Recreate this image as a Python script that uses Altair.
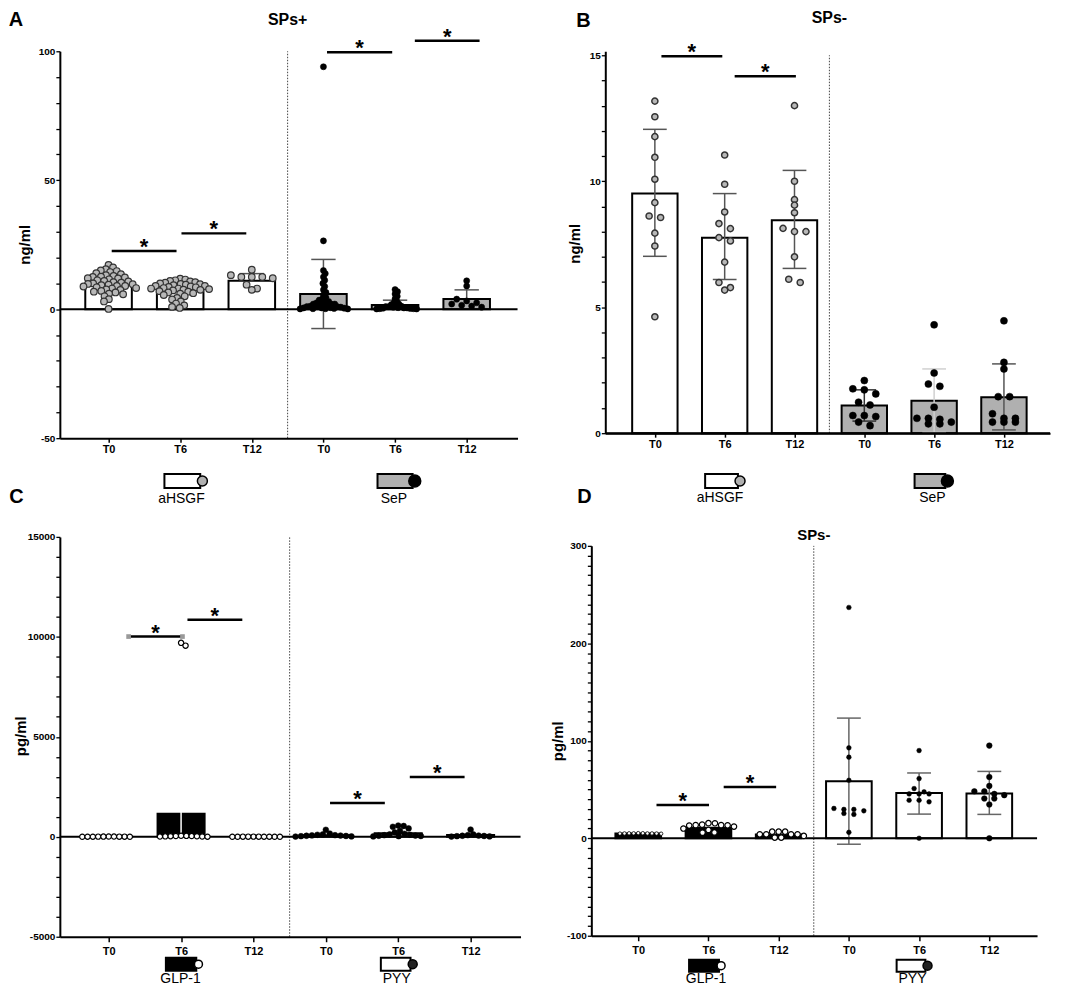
import math
import altair as alt
import pandas as pd

FONT = "Liberation Sans"

TICK_LABELS = ["T0", "T6", "T12", "T0", "T6", "T12"]
POSITIONS = [0, 1, 2, 3, 4, 5]

# ---------------- Panel A : SPs+ (ng/ml) ----------------
A_GROUPS = ["aHSGF", "SeP"]
A_aHSGF_T0 = [17.2, 16.2, 15.5, 15.0, 14.8, 14.4, 14.0, 13.6, 13.2, 12.9, 12.6, 12.5, 12.3, 12.0,
              11.9, 11.6, 11.2, 11.0, 10.8, 10.5, 10.3, 10.0, 9.8, 9.7, 9.5, 9.3, 9.0, 9.0, 8.8,
              8.5, 8.2, 8.0, 7.7, 7.5, 7.1, 6.8, 6.5, 6.0, 5.8, 5.0, 3.9, 3.0, 0.1]
A_aHSGF_T6 = [11.8, 11.5, 11.2, 11.0, 10.8, 10.5, 10.3, 10.0, 9.8, 9.7, 9.5, 9.3, 9.0, 9.0, 8.8,
              8.6, 8.5, 8.2, 8.0, 8.0, 7.8, 7.6, 7.5, 7.3, 7.0, 6.8, 6.5, 6.2, 6.0, 5.5, 5.0,
              4.4, 3.8, 3.0, 2.2, 1.5, 0.9, 0.5]
A_aHSGF_T12 = [15.3, 13.2, 12.5, 12.5, 12.5, 12.0, 9.5, 8.0, 7.5]
A_SeP_T0 = [94.0, 26.5, 15.0, 13.8, 12.5, 11.2, 10.0, 8.8, 7.5, 6.5, 5.5, 4.5, 4.0, 3.5, 3.0,
            3.0, 2.5, 2.5, 2.0, 2.0, 2.0, 1.5, 1.5, 1.5, 1.2, 1.0, 1.0, 1.0, 0.8, 0.6, 0.5,
            0.5, 0.4, 0.3, 0.2, 0.2, 0.1, 0.1]
A_SeP_T6 = [7.6, 6.8, 5.9, 5.0, 4.0, 3.0, 2.5, 2.0, 1.8, 1.5, 1.2, 1.0, 1.0,
            0.8, 0.6, 0.5, 0.5, 0.4, 0.3, 0.2, 0.2, 0.1, 0.1]
A_SeP_T12 = [11.0, 9.0, 3.9, 3.2, 2.5, 2.0, 1.5, 1.2, 0.8]
A_MEAN = [9.8, 8.0, 11.0, 5.9, 1.6, 4.0]
A_SD_LOW = [None, None, None, -7.5, None, None]
A_SD_HIGH = [None, None, 13.8, 19.3, 3.5, 7.5]
A_SIG_FROM = [0.044, 1.018, 3.05, 4.276]
A_SIG_TO = [0.949, 1.923, 3.96, 5.18]
A_SIG_AT = [22.6, 29.4, 99.6, 104.1]

# ---------------- Panel B : SPs- (ng/ml) ----------------
B_GROUPS = ["aHSGF", "SeP"]
B_aHSGF_T0 = [13.18, 12.56, 11.77, 10.95, 10.08, 9.15, 8.62, 8.56, 7.94, 7.43, 4.62]
B_aHSGF_T6 = [11.04, 9.88, 8.78, 8.32, 8.12, 7.76, 7.63, 6.79, 5.98, 5.78, 5.68]
B_aHSGF_T12 = [13.0, 10.0, 9.27, 9.05, 8.75, 8.13, 8.0, 8.0, 7.0, 6.11, 5.98]
B_SeP_T0 = [2.09, 1.76, 1.72, 1.56, 1.23, 1.12, 0.70, 0.70, 0.66, 0.44, 0.30]
B_SeP_T6 = [4.30, 2.39, 1.95, 1.86, 1.03, 0.59, 0.59, 0.55, 0.44, 0.37, 0.37]
B_SeP_T12 = [4.46, 2.81, 2.55, 1.45, 1.45, 0.77, 0.59, 0.59, 0.44, 0.44, 0.44]
B_MEAN = [9.51, 7.76, 8.45, 1.10, 1.29, 1.43]
B_SD_LOW = [7.02, 6.10, 6.54, 0.48, 0.03, 0.13]
B_SD_HIGH = [12.06, 9.51, 10.43, 1.72, 2.55, 2.75]
B_SIG_FROM = [0.094, 1.143]
B_SIG_TO = [0.966, 2.02]
B_SIG_AT = [14.96, 14.17]

# ---------------- Panel C : SPs+ (pg/ml) ----------------
C_GROUPS = ["GLP-1", "PYY"]
C_GLP_T0 = [5, 10, 3, 8, 6, 4, 12, 7, 5, 9]
C_GLP_T6 = [9700, 9560, 50, 45, 40, 35, 30, 25, 20, 15, 10, 5]
C_GLP_T12 = [3, 5, 8, 2, 6, 4, 7, 5, 3, 6]
C_PYY_T0 = [350, 160, 120, 100, 80, 70, 60, 50, 40, 30, 20, 10]
C_PYY_T6 = [560, 540, 500, 420, 300, 220, 150, 120, 100, 80, 60, 50, 40, 30, 20]
C_PYY_T12 = [360, 120, 80, 60, 50, 40, 30, 20, 10]
C_MEAN = [7, 1150, 5, 80, 180, 85]
C_SD_LOW = [None, 0, None, None, None, None]
C_SD_HIGH = [None, 4100, None, None, None, None]
C_SIG_FROM = [0.275, 1.088, 3.058, 4.16]
C_SIG_TO = [1.019, 1.846, 3.815, 4.917]
C_SIG_AT = [10015, 10860, 1694, 2990]

# ---------------- Panel D : SPs- (pg/ml) ----------------
D_GROUPS = ["GLP-1", "PYY"]
D_GLP_T0 = [5.2, 4.8, 5.0, 5.1, 4.9, 5.0, 5.3, 4.7, 5.0, 5.1]
D_GLP_T6 = [15.5, 15.4, 13.5, 13.3, 13.5, 14.0, 13.0, 12.0, 10.0, 8.5, 6.0, 5.8]
D_GLP_T12 = [6.8, 6.8, 6.8, 4.1, 4.1, 4.1, 4.1, 2.4, 0.7, 0.7]
D_PYY_T0 = [236.8, 92.8, 83.2, 59.5, 30.6, 29.6, 29.6, 28.2, 25.5, 24.5, 6.1]
D_PYY_T6 = [90.0, 61.2, 51.0, 47.6, 45.5, 45.5, 45.5, 39.0, 39.0, 37.4, 0.0]
D_PYY_T12 = [95.1, 62.9, 53.7, 48.2, 48.2, 45.5, 44.2, 40.8, 40.8, 34.7, 0.0]
D_MEAN = [5.0, 10.9, 4.0, 58.4, 46.5, 45.9]
D_SD_LOW = [None, None, None, -6.1, 24.8, 24.5]
D_SD_HIGH = [None, None, None, 123.3, 67.0, 68.6]
D_SIG_FROM = [0.26, 1.217]
D_SIG_TO = [1.008, 1.964]
D_SIG_AT = [34.1, 52.5]

GREY = "#b0b0b0"
LGREY = "#b8b8b8"
HALF_BAR = 0.325
CAP = 0.17


def swarm(values, ppu, dist):
    placed = []
    out = [0.0] * len(values)
    order = sorted(range(len(values)), key=lambda i: -values[i])
    for i in order:
        yp = values[i] * ppu
        forb = []
        for xo, yo in placed:
            dy = abs(yp - yo)
            if dy < dist:
                h = math.sqrt(dist * dist - dy * dy)
                forb.append((xo - h, xo + h))
        cands = [0.0]
        for a, b in forb:
            cands += [a, b]
        cands.sort(key=lambda c: (round(abs(c), 6), -c))
        best = 0.0
        for c in cands:
            if all(not (a + 1e-6 < c < b - 1e-6) for a, b in forb):
                best = c
                break
        placed.append((best, yp))
        out[i] = best
    return out


def rows(values, ppu, thr, sp):
    order = sorted(range(len(values)), key=lambda i: -values[i])
    groups = []
    for i in order:
        if groups and (values[groups[-1][0]] - values[i]) * ppu < thr:
            groups[-1].append(i)
        else:
            groups.append([i])
    out = [0.0] * len(values)
    for g in groups:
        n = len(g)
        for k, i in enumerate(g):
            out[i] = (k - (n - 1) / 2) * sp
    return out


def pstyle(fill, stroke, size, sw, lay):
    return dict(fill=fill, stroke=stroke, size=size, sw=sw, lay=lay)


PANEL_A = dict(
    values=[A_aHSGF_T0, A_aHSGF_T6, A_aHSGF_T12, A_SeP_T0, A_SeP_T6, A_SeP_T12],
    mean=A_MEAN, lo=A_SD_LOW, hi=A_SD_HIGH, sig=(A_SIG_FROM, A_SIG_TO, A_SIG_AT), sig_ends=[],
    groups=A_GROUPS, ytitle="ng/ml", title="SPs+",
    L=58, T=50, W=459, H=388, xdom=[-0.68, 5.71], ydom=[-50, 100], yticks=(-50, 100, 10), ymajor=50,
    xtick=4, xpad=1, cell=(8, 8, 530, 515),
    bar_fill=["white"] * 3 + [GREY] * 3, err_color=["#555"] * 6,
    pts=[pstyle(LGREY, "#333", 44, 1.2, ("swarm", 5.2)), pstyle(LGREY, "#333", 44, 1.2, ("swarm", 5.2)),
         pstyle(LGREY, "#333", 44, 1.2, ("rows", 4, 10.5)), pstyle("black", "black", 38, 0.5, ("swarm", 3.6)),
         pstyle("black", "black", 38, 0.5, ("swarm", 3.2)), pstyle("black", "black", 38, 0.5, ("rows", 4, 10))],
    legend=[dict(c=1.03, hw=0.25, tx=1.018, rect="white", dot=GREY, size=100),
            dict(c=4.0, hw=0.245, tx=3.984, rect=GREY, dot="black", size=144)],
    leg_y=(474, 488, 481, 499),
    title_y=19, title_size=16, title_baseline="middle",
    letters=[("A", 14, 18.5), ("C", 14.5, 497)], ytitle_xy=(23, 244),
)

PANEL_B = dict(
    values=[B_aHSGF_T0, B_aHSGF_T6, B_aHSGF_T12, B_SeP_T0, B_SeP_T6, B_SeP_T12],
    mean=B_MEAN, lo=B_SD_LOW, hi=B_SD_HIGH, sig=(B_SIG_FROM, B_SIG_TO, B_SIG_AT), sig_ends=[],
    groups=B_GROUPS, ytitle="ng/ml", title="SPs-",
    L=602, T=50, W=446, H=383, xdom=[-0.71, 5.66], ydom=[0, 15.158], yticks=(0, 15, 1), ymajor=5,
    xtick=4, xpad=1, cell=(530, 8, 1055, 515),
    bar_fill=["white"] * 3 + [GREY] * 3,
    err_color=["#555", "#555", "#555", "#333", "#d0d0d0", "#555"],
    pts=[pstyle(LGREY, "#333", 38, 1.5, ("rows", 5.5, 11.5))] * 3
        + [pstyle("black", "black", 50, 0.5, ("rows", 5.5, 11.5))] * 3,
    legend=[dict(c=0.955, hw=0.235, tx=0.933, rect="white", dot=GREY, size=100),
            dict(c=3.94, hw=0.22, tx=3.976, rect=GREY, dot="black", size=144)],
    leg_y=(474, 488, 481, 498),
    title_y=8.5, title_size=16, title_baseline="top",
    letters=[("B", 580, 20), ("D", 581, 497)], ytitle_xy=(572, 243),
)

PANEL_C = dict(
    values=[C_GLP_T0, C_GLP_T6, C_GLP_T12, C_PYY_T0, C_PYY_T6, C_PYY_T12],
    mean=C_MEAN, lo=C_SD_LOW, hi=C_SD_HIGH, sig=(C_SIG_FROM, C_SIG_TO, C_SIG_AT), sig_ends=[0],
    groups=C_GROUPS, ytitle="pg/ml", title=None,
    L=55, T=537, W=462, H=401, xdom=[-0.675, 5.69], ydom=[-5000, 15000], yticks=(-5000, 15000, 1000),
    ymajor=5000, xtick=5, xpad=4, cell=(8, 515, 530, 988),
    bar_fill=["black"] * 3 + ["white"] * 3, err_color=["white"] * 6,
    pts=[pstyle("white", "black", 28, 1.2, ("swarm", 5.3))] * 3
        + [pstyle("black", "black", 34, 0.5, ("swarm", 5.5))] * 3,
    legend=[dict(c=1.0, hw=0.21, tx=0.992, rect="black", dot="white", size=64),
            dict(c=3.965, hw=0.205, tx=3.98, rect="white", dot="#222", size=81)],
    leg_y=(959, 972, 965.5, 980.5),
    letters=[], ytitle_xy=(16, 737),
)

PANEL_D = dict(
    values=[D_GLP_T0, D_GLP_T6, D_GLP_T12, D_PYY_T0, D_PYY_T6, D_PYY_T12],
    mean=D_MEAN, lo=D_SD_LOW, hi=D_SD_HIGH, sig=(D_SIG_FROM, D_SIG_TO, D_SIG_AT), sig_ends=[],
    groups=D_GROUPS, ytitle="pg/ml", title="SPs-",
    L=588, T=546, W=447, H=391, xdom=[-0.668, 5.68], ydom=[-100, 300], yticks=(-100, 300, 10),
    ymajor=100, xtick=5, xpad=4, cell=(530, 515, 1055, 988),
    bar_fill=["black"] * 3 + ["white"] * 3, err_color=["#666"] * 6,
    pts=[pstyle("white", "black", 12, 0.8, ("swarm", 4.6)),
         pstyle("white", "black", 30, 1.2, ("swarm", 6.5)),
         pstyle("white", "black", 30, 1.2, ("swarm", 6.5)),
         pstyle("black", "black", 22, 0.5, ("rows", 4, 10)),
         pstyle("black", "black", 22, 0.5, ("rows", 4, 10)),
         pstyle("black", "black", 32, 0.5, ("rows", 4, 10))],
    legend=[dict(c=0.937, hw=0.213, tx=0.965, rect="black", dot="white", size=64),
            dict(c=3.885, hw=0.205, tx=3.906, rect="white", dot="#222", size=81)],
    leg_y=(961, 973, 967, 980.5),
    title_y=535, title_size=15, title_baseline="middle",
    letters=[], ytitle_xy=(555, 742),
)


def build(p):
    L, T, W, H = p["L"], p["T"], p["W"], p["H"]
    x0, x1 = p["xdom"]
    y0, y1 = p["ydom"]
    ppx = W / (x1 - x0)
    ppy = H / (y1 - y0)
    xs = alt.Scale(domain=[x0, x1], nice=False, zero=False)
    ys = alt.Scale(domain=[y0, y1], nice=False, zero=False)
    lab = "[" + ",".join("'" + t + "'" for t in TICK_LABELS) + "][datum.value]"
    xaxis = alt.Axis(values=POSITIONS, labelExpr=lab, title=None, grid=False, orient="bottom",
                     domainColor="black", domainWidth=2, tickColor="black", tickWidth=1.5,
                     tickSize=p["xtick"], labelPadding=p["xpad"], labelFont=FONT, labelFontSize=11,
                     labelFontWeight="bold", labelColor="black", labelFlush=False, labelOverlap=False,
                     zindex=1)
    t0, t1, tstep = p["yticks"]
    yvals = list(range(t0, t1 + 1, tstep))
    yaxis = alt.Axis(values=yvals,
                     labelExpr="datum.value %% %d === 0 ? '' + datum.value : ''" % p["ymajor"],
                     title=None, grid=False, orient="left", domainColor="black", domainWidth=2,
                     tickColor="black", tickWidth=1.3, tickSize=4, labelPadding=1, labelFont=FONT,
                     labelFontSize=10, labelFontWeight="bold", labelColor="black",
                     labelFlush=False, labelOverlap=False, zindex=1)

    def X(f):
        return alt.X(f, type="quantitative", scale=xs, axis=xaxis)

    def Y(f):
        return alt.Y(f, type="quantitative", scale=ys, axis=yaxis)

    one = pd.DataFrame({"k": [0]})
    layers = []
    cx1, cy1, cx2, cy2 = p["cell"]
    layers.append(alt.Chart(one).mark_rect(fill="white").encode(
        x=alt.value(cx1 - L), x2=alt.value(cx2 - L), y=alt.value(cy1 - T), y2=alt.value(cy2 - T)))

    # bars
    bars = pd.DataFrame({"x1": [q - HALF_BAR for q in POSITIONS], "x2": [q + HALF_BAR for q in POSITIONS],
                         "m": p["mean"], "z": [0] * 6, "fill": p["bar_fill"]})
    layers.append(alt.Chart(bars).mark_rect(stroke="black", strokeWidth=2).encode(
        x=X("x1"), x2="x2", y=Y("m"), y2="z", fill=alt.Fill("fill:N", scale=None)))

    # divider
    div = pd.DataFrame({"x": [2.5], "ya": [y0], "yb": [t1]})
    layers.append(alt.Chart(div).mark_rule(color="#444", strokeWidth=1, strokeDash=[1.5, 1.5]).encode(
        x=X("x"), y=Y("ya"), y2="yb"))

    # error bars
    er, caps = [], []
    for i in range(6):
        hi = p["hi"][i]
        if hi is None:
            continue
        lo = p["lo"][i]
        col = p["err_color"][i]
        base = lo if lo is not None else p["mean"][i]
        er.append({"x": POSITIONS[i], "ya": base, "yb": hi, "c": col})
        caps.append({"xa": POSITIONS[i] - CAP, "xb": POSITIONS[i] + CAP, "y": hi, "c": col})
        if lo is not None:
            caps.append({"xa": POSITIONS[i] - CAP, "xb": POSITIONS[i] + CAP, "y": lo, "c": col})
    if er:
        layers.append(alt.Chart(pd.DataFrame(er)).mark_rule(strokeWidth=1.5).encode(
            x=X("x"), y=Y("ya"), y2="yb", color=alt.Color("c:N", scale=None)))
        layers.append(alt.Chart(pd.DataFrame(caps)).mark_rule(strokeWidth=1.5).encode(
            x=X("xa"), x2="xb", y=Y("y"), color=alt.Color("c:N", scale=None)))

    # zero line
    zero = pd.DataFrame({"xa": [x0], "xb": [x1], "y": [0]})
    layers.append(alt.Chart(zero).mark_rule(color="black", strokeWidth=2).encode(
        x=X("xa"), x2="xb", y=Y("y")))

    # points
    pts = []
    for i, vals in enumerate(p["values"]):
        st = p["pts"][i]
        lay = st["lay"]
        if lay[0] == "swarm":
            offs = swarm(vals, ppy, lay[1])
        else:
            offs = rows(vals, ppy, lay[1], lay[2])
        for v, o in zip(vals, offs):
            pts.append({"x": POSITIONS[i] + o / ppx, "y": v, "fill": st["fill"], "stroke": st["stroke"],
                        "size": st["size"], "sw": st["sw"]})
    layers.append(alt.Chart(pd.DataFrame(pts)).mark_point(shape="circle", filled=True, opacity=1).encode(
        x=X("x"), y=Y("y"), fill=alt.Fill("fill:N", scale=None), stroke=alt.Stroke("stroke:N", scale=None),
        size=alt.Size("size:Q", scale=None), strokeWidth=alt.StrokeWidth("sw:Q", scale=None)))

    # significance bars
    sf, st_, sa = p["sig"]
    sig = pd.DataFrame({"xa": sf, "xb": st_, "y": sa})
    sig["xm"] = (sig["xa"] + sig["xb"]) / 2
    layers.append(alt.Chart(sig).mark_rule(color="black", strokeWidth=2.5).encode(
        x=X("xa"), x2="xb", y=Y("y")))
    layers.append(alt.Chart(sig).mark_text(text="*", fontSize=22, fontWeight="bold", font=FONT,
                                           baseline="alphabetic", dy=3, color="black").encode(
        x=X("xm"), y=Y("y")))
    if p["sig_ends"]:
        ends = []
        for k in p["sig_ends"]:
            ends.append({"x": sf[k], "y": sa[k]})
            ends.append({"x": st_[k], "y": sa[k]})
        layers.append(alt.Chart(pd.DataFrame(ends)).mark_point(shape="square", filled=True, color="#999",
                                                               size=22, opacity=1).encode(
            x=X("x"), y=Y("y")))

    # legend under the axis
    ry1, ry2, dy_, ty = p["leg_y"]
    leg = pd.DataFrame({
        "xa": [g["c"] - g["hw"] for g in p["legend"]],
        "xb": [g["c"] + g["hw"] for g in p["legend"]],
        "xd": [g["c"] + g["hw"] + 0.03 for g in p["legend"]],
        "xt": [g["tx"] for g in p["legend"]],
        "rf": [g["rect"] for g in p["legend"]],
        "df": [g["dot"] for g in p["legend"]],
        "ds": [g["size"] for g in p["legend"]],
        "name": p["groups"],
    })
    layers.append(alt.Chart(leg).mark_rect(stroke="black", strokeWidth=2).encode(
        x=X("xa"), x2="xb", y=alt.value(ry1 - T), y2=alt.value(ry2 - T), fill=alt.Fill("rf:N", scale=None)))
    layers.append(alt.Chart(leg).mark_point(shape="circle", filled=True, opacity=1, stroke="black",
                                            strokeWidth=1.5).encode(
        x=X("xd"), y=alt.value(dy_ - T), fill=alt.Fill("df:N", scale=None), size=alt.Size("ds:Q", scale=None)))
    layers.append(alt.Chart(leg).mark_text(fontSize=14, font=FONT, color="black", baseline="middle").encode(
        x=X("xt"), y=alt.value(ty - T), text="name:N"))

    # panel title
    if p.get("title"):
        tt = pd.DataFrame({"x": [2.5], "t": [p["title"]]})
        layers.append(alt.Chart(tt).mark_text(fontSize=p["title_size"], fontWeight="bold", font=FONT,
                                              color="black", baseline=p["title_baseline"]).encode(
            x=X("x"), y=alt.value(p["title_y"] - T), text="t:N"))

    # panel letters
    for txt, ax, ay in p["letters"]:
        layers.append(alt.Chart(one).mark_text(text=txt, fontSize=20, fontWeight="bold", font=FONT,
                                               color="black", baseline="middle", align="center").encode(
            x=alt.value(ax - L), y=alt.value(ay - T)))

    # y title
    tx, tyy = p["ytitle_xy"]
    layers.append(alt.Chart(one).mark_text(text=p["ytitle"], fontSize=15, fontWeight="bold", font=FONT,
                                           color="black", angle=270, baseline="middle",
                                           align="center").encode(
        x=alt.value(tx - L), y=alt.value(tyy - T)))

    return alt.layer(*layers).properties(width=W, height=H)


chart = alt.concat(build(PANEL_A), build(PANEL_B), build(PANEL_C), build(PANEL_D),
                   columns=2, align="none", bounds="full", spacing=0,
                   padding=0, background="white").configure_view(strokeWidth=0)

chart.save("out.html", embed_options={"renderer": "svg", "actions": False})
